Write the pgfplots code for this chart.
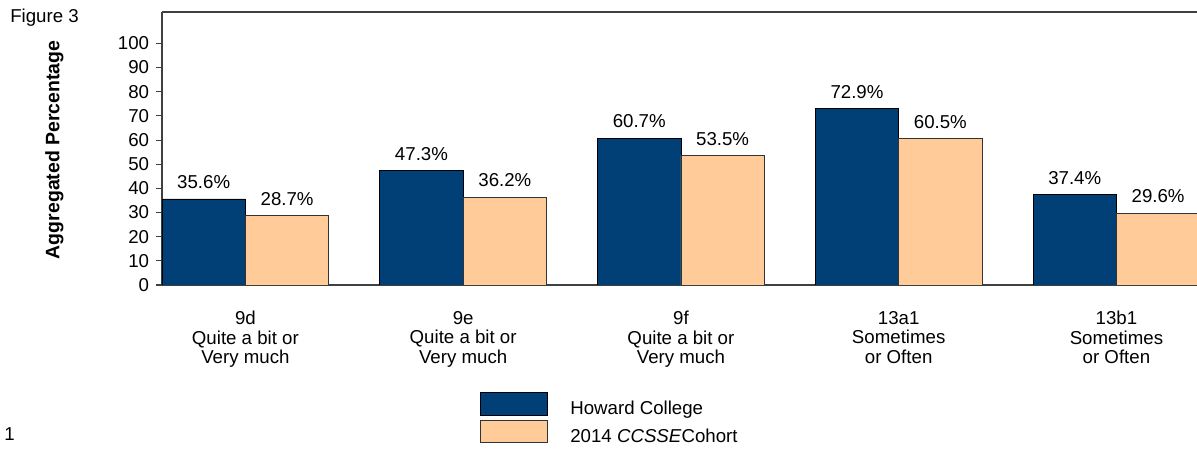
\documentclass[border=0pt]{standalone}
\usepackage{pgfplots}
\pgfplotsset{compat=1.18}
\usepackage{fontspec}
\setmainfont{Liberation Sans}
\definecolor{hcnavy}{RGB}{0,64,119}
\definecolor{ccpeach}{RGB}{255,204,153}
\definecolor{axisgray}{RGB}{64,64,64}

\begin{document}
\fontsize{14}{16.8}\selectfont
\begin{tikzpicture}[x=0.75pt,y=0.75pt]
\useasboundingbox (0,0) rectangle (1197,449);
\node[anchor=base west, inner sep=0pt] at (10,426) {Figure 3};
\node[anchor=base west, inner sep=0pt] at (4,8) {1};
\begin{axis}[
    at={(121.5pt,123pt)}, anchor=south west,
    scale only axis,
    width=776.25pt, height=204.75pt,
    ybar=0pt, bar width=0.383,
    xmin=-0.383, xmax=4.37,
    ymin=0, ymax=113,
    axis x line=box, axis y line=left,
    axis line style={-, draw=axisgray, line width=1.1pt},
    ytick={0,10,...,100},
    xtick={0,1,2,3,4},
    xticklabels={{9d\\Quite a bit or\\Very much},{9e\\Quite a bit or\\Very much},{9f\\Quite a bit or\\Very much},{13a1\\Sometimes\\or Often},{13b1\\Sometimes\\or Often}},
    xticklabel style={align=center, inner sep=0pt, yshift=-15pt, font=\fontsize{14}{14.6}\selectfont},
    major x tick style={draw=none},
    tick align=outside,
    major tick length=4.5pt,
    major y tick style={draw=axisgray, line width=0.8pt},
    yticklabel style={inner sep=0pt, xshift=-5pt},
    /pgf/number format/assume math mode=true,
    ylabel={Aggregated Percentage},
    ylabel style={font=\bfseries\fontsize{14.6}{16}\selectfont, at={(axis description cs:-0.104,0.495)}, anchor=center},
    nodes near coords={\pgfmathprintnumber[fixed,fixed zerofill,precision=1]{\pgfplotspointmeta}\%},
    every node near coord/.append style={inner sep=0pt, yshift=7.5pt, text=black},
    every axis plot post/.append style={/pgfplots/legend image code/.code={\draw[##1] (0pt,-4pt) rectangle (50pt,13pt);}},
    legend style={at={(axis description cs:0.3072,-0.3919)}, anchor=north west, draw=none, fill=none, inner sep=0pt, row sep=0.8pt, nodes={inner sep=0pt, anchor=west, text depth=3pt, text height=10pt}, /tikz/every odd column/.style={column sep=17pt}},
    legend cell align=left,
]
\addplot[fill=hcnavy, draw=black, line width=0.6pt] coordinates {(0,35.6) (1,47.3) (2,60.7) (3,72.9) (4,37.4)};
\addplot[fill=ccpeach, draw=black!80, line width=0.6pt] coordinates {(0,28.7) (1,36.2) (2,53.5) (3,60.5) (4,29.6)};
\legend{Howard College, 2014 \textit{CCSSE}Cohort}
\end{axis}
\end{tikzpicture}
\end{document}
